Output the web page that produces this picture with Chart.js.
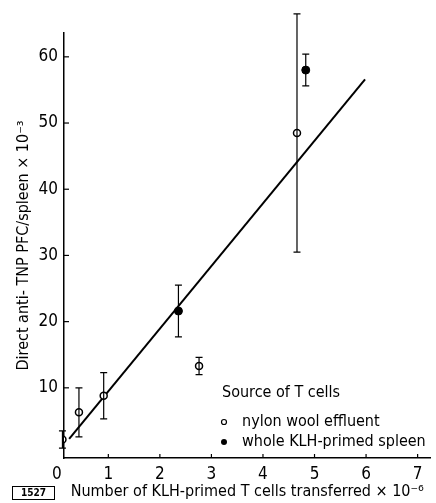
<!DOCTYPE html>
<html>
<head>
<meta charset="utf-8">
<script src="https://cdn.jsdelivr.net/npm/chart.js@4.4.1/dist/chart.umd.min.js"></script>
<style>
  html, body { margin: 0; padding: 0; background: #fff; }
  #wrap { width: 436px; height: 503px; }
</style>
</head>
<body>
<div id="wrap"><canvas id="pfcChart" width="436" height="503"></canvas></div>
<script>
const FONT = '"Liberation Sans Narrow", "DejaVu Sans Condensed", "Roboto Condensed", "Liberation Sans", sans-serif';

// data
const xTicks = [0, 1, 2, 3, 4, 5, 6, 7];
const yTicks = [10, 20, 30, 40, 50, 60];

const nylonX = [0.11, 0.43, 0.91, 2.76, 4.66];
const nylonY = [2.2, 6.3, 8.8, 13.3, 48.5];
const nylonErr = [1.3, 3.7, 3.5, 1.3, 18];

const spleenX = [2.36, 4.83];
const spleenY = [21.6, 58.0];
const spleenErr = [3.9, 2.4];

const fitX = [0.24, 5.98];
const fitY = [2.3, 56.6];

const legendTitle = "Source of T cells";
const figNumber = "1527";

const toPoints = (xs, ys) => xs.map((x, i) => ({ x: x, y: ys[i] }));

// error bars, inward tick marks, legend, figure number
const extras = {
    id: "extras",
    afterDatasetsDraw(chart) {
        const ctx = chart.ctx;
        const xs = chart.scales.x, ys = chart.scales.y;
        const area = chart.chartArea;
        ctx.save();
        ctx.strokeStyle = "#000";
        ctx.fillStyle = "#000";

        // error bars
        ctx.lineWidth = 1.2;
        [[nylonX, nylonY, nylonErr], [spleenX, spleenY, spleenErr]].forEach(([xv, yv, ev]) => {
            xv.forEach((x, i) => {
                const px = xs.getPixelForValue(x);
                const top = ys.getPixelForValue(yv[i] + ev[i]);
                const bot = ys.getPixelForValue(yv[i] - ev[i]);
                ctx.beginPath();
                ctx.moveTo(px, top); ctx.lineTo(px, bot);
                ctx.moveTo(px - 3.5, top); ctx.lineTo(px + 3.5, top);
                ctx.moveTo(px - 3.5, bot); ctx.lineTo(px + 3.5, bot);
                ctx.stroke();
            });
        });

        // inward ticks
        yTicks.forEach(v => {
            const py = ys.getPixelForValue(v);
            ctx.beginPath();
            ctx.moveTo(area.left, py); ctx.lineTo(area.left + 5, py);
            ctx.stroke();
        });
        xTicks.forEach(v => {
            if (v < xs.min) return;
            const px = xs.getPixelForValue(v);
            ctx.beginPath();
            ctx.moveTo(px, area.bottom); ctx.lineTo(px, area.bottom - 4);
            ctx.stroke();
        });

        // legend
        ctx.font = "16px " + FONT;
        ctx.textBaseline = "middle";
        ctx.textAlign = "left";
        ctx.fillText(legendTitle, 222, 393);
        chart.data.datasets.slice(0, 2).forEach((ds, i) => {
            const y = 422 + i * 20;
            ctx.beginPath();
            ctx.arc(224, y, i === 0 ? 2.5 : 3, 0, Math.PI * 2);
            if (i === 0) { ctx.lineWidth = 1.2; ctx.stroke(); } else { ctx.fill(); }
            ctx.fillText(ds.label, 242, y);
        });

        // figure number box
        ctx.font = "bold 10px " + FONT;
        ctx.textAlign = "center";
        ctx.lineWidth = 1;
        ctx.strokeRect(12.5, 486.5, 42, 13);
        ctx.fillText(figNumber, 33.5, 493.5);
        ctx.restore();
    }
};

new Chart(document.getElementById("pfcChart"), {
    type: "scatter",
    data: {
        datasets: [{
            label: "nylon wool effluent",
            data: toPoints(nylonX, nylonY),
            pointStyle: "circle",
            pointRadius: 3.5,
            pointBackgroundColor: "#fff",
            pointBorderColor: "#000",
            pointBorderWidth: 1.5,
            order: 1
        }, {
            label: "whole KLH-primed spleen",
            data: toPoints(spleenX, spleenY),
            pointStyle: "circle",
            pointRadius: 4,
            pointBackgroundColor: "#000",
            pointBorderColor: "#000",
            pointBorderWidth: 1,
            order: 1
        }, {
            label: "fit",
            type: "line",
            data: toPoints(fitX, fitY),
            borderColor: "#000",
            borderWidth: 2,
            pointRadius: 0,
            fill: false,
            order: 2
        }]
    },
    options: {
        responsive: false,
        animation: false,
        layout: { padding: { left: 0, right: 0, top: 33, bottom: 0 } },
        plugins: {
            legend: { display: false },
            tooltip: { enabled: false }
        },
        scales: {
            x: {
                type: "linear",
                min: 0.14,
                max: 7.25,
                afterBuildTicks: s => { s.ticks = xTicks.map(v => ({ value: v })); },
                afterFit: s => { s.height = 45; },
                grid: { display: false, drawTicks: false },
                border: { display: true, color: "#000", width: 1.5 },
                ticks: {
                    autoSkip: false,
                    maxRotation: 0,
                    padding: 6,
                    color: "#000",
                    font: { family: FONT, size: 17 }
                },
                title: {
                    display: true,
                    text: "Number of KLH-primed T cells transferred × 10⁻⁶",
                    color: "#000",
                    padding: { top: 0, bottom: 2 },
                    font: { family: FONT, size: 16 }
                }
            },
            y: {
                type: "linear",
                min: -0.6,
                max: 63.6,
                afterBuildTicks: s => { s.ticks = yTicks.map(v => ({ value: v })); },
                afterFit: s => { s.width = 64; },
                grid: { display: false, drawTicks: false },
                border: { display: true, color: "#000", width: 1.5 },
                ticks: {
                    padding: 6,
                    color: "#000",
                    font: { family: FONT, size: 17 }
                },
                title: {
                    display: true,
                    text: "Direct anti- TNP PFC/spleen × 10⁻³",
                    color: "#000",
                    padding: { top: 14, bottom: 0 },
                    font: { family: FONT, size: 16 }
                }
            }
        }
    },
    plugins: [extras]
});
</script>
</body>
</html>
